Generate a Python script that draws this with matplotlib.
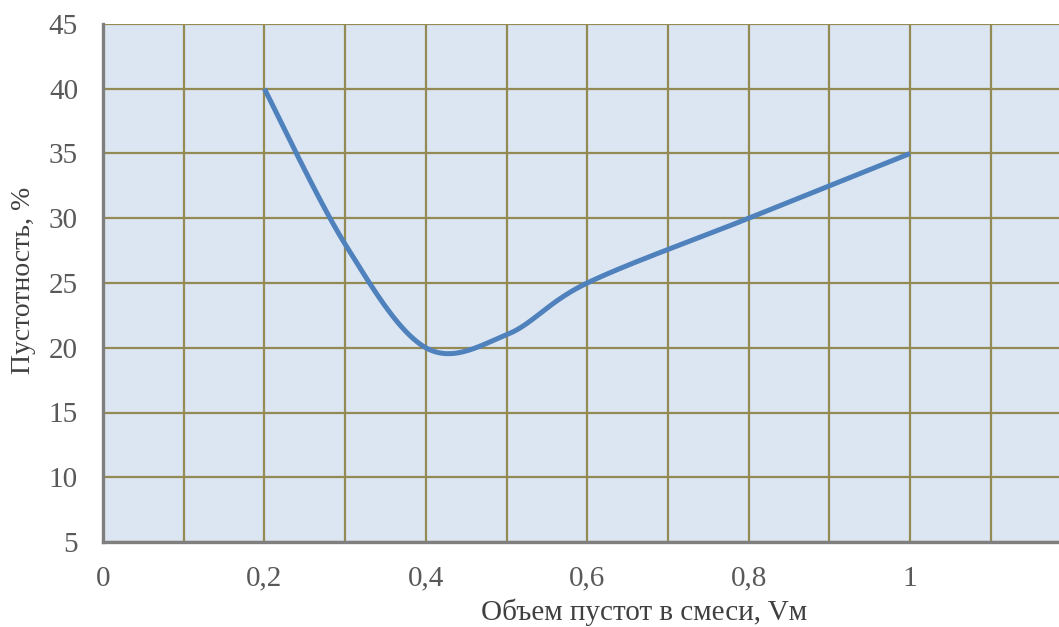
import matplotlib.pyplot as plt
import numpy as np
from matplotlib.ticker import MultipleLocator, FuncFormatter

# voids volume in the mix vs. voidness of the aggregate
vm = [0.2, 0.3, 0.4, 0.5, 0.6, 0.8, 1.0]
voidness = [40, 28, 20, 21, 25, 30, 35]


def smooth_curve(xs, ys, n=60):
    # Catmull-Rom style Bezier smoothing, as in spreadsheet "smoothed line"
    p = np.column_stack([xs, ys]).astype(float)
    ext = np.vstack([p[0], p, p[-1]])
    out = []
    t = np.linspace(0, 1, n)[:, None]
    for i in range(len(p) - 1):
        p0, p1, p2, p3 = ext[i], ext[i + 1], ext[i + 2], ext[i + 3]
        c1 = p1 + (p2 - p0) / 6
        c2 = p2 - (p3 - p1) / 6
        seg = ((1 - t) ** 3) * p1 + 3 * ((1 - t) ** 2) * t * c1 + 3 * (1 - t) * t ** 2 * c2 + t ** 3 * p2
        out.append(seg if i == 0 else seg[1:])
    out = np.vstack(out)
    return out[:, 0], out[:, 1]


plt.rcParams['font.family'] = ['Liberation Serif', 'DejaVu Serif']

fig = plt.figure(figsize=(10.59, 6.27), dpi=100)
ax = fig.add_axes([103 / 1059, 1 - 542 / 627, 1 - 103 / 1059, 518 / 627])
ax.set_facecolor('#DCE6F2')

sx, sy = smooth_curve(vm, voidness)
ax.plot(sx, sy, color='#4F81BD', lw=3.6, solid_capstyle='butt', zorder=3)

ax.set_xlim(0, 956 / 807)
ax.set_ylim(5, 45)
ax.xaxis.set_major_locator(MultipleLocator(0.2))
ax.xaxis.set_minor_locator(MultipleLocator(0.1))
ax.yaxis.set_major_locator(MultipleLocator(5))
ax.xaxis.set_major_formatter(FuncFormatter(lambda v, _: ('%g' % round(v, 2)).replace('.', ',')))
ax.grid(True, which='both', color='#948A54', lw=1.6)
ax.set_axisbelow(True)
ax.tick_params(which='both', length=0, labelsize=21, colors='#595959')
ax.tick_params(axis='x', pad=17)
ax.tick_params(axis='y', pad=18)

for side in ['top', 'right']:
    ax.spines[side].set_visible(False)
for side in ['left', 'bottom']:
    ax.spines[side].set_color('#7F7F7F')
    ax.spines[side].set_linewidth(2.4)
    ax.spines[side].set_zorder(4)

fig.text(644 / 1059, 1 - 612 / 627, 'Объем пустот в смеси, Vм', ha='center', va='center',
         fontsize=21, color='#404040')
fig.text(24 / 1059, 1 - 280 / 627, 'Пустотность, %', ha='center', va='center',
         rotation=90, fontsize=20, color='#404040')

fig.savefig('out.png', dpi=100)
